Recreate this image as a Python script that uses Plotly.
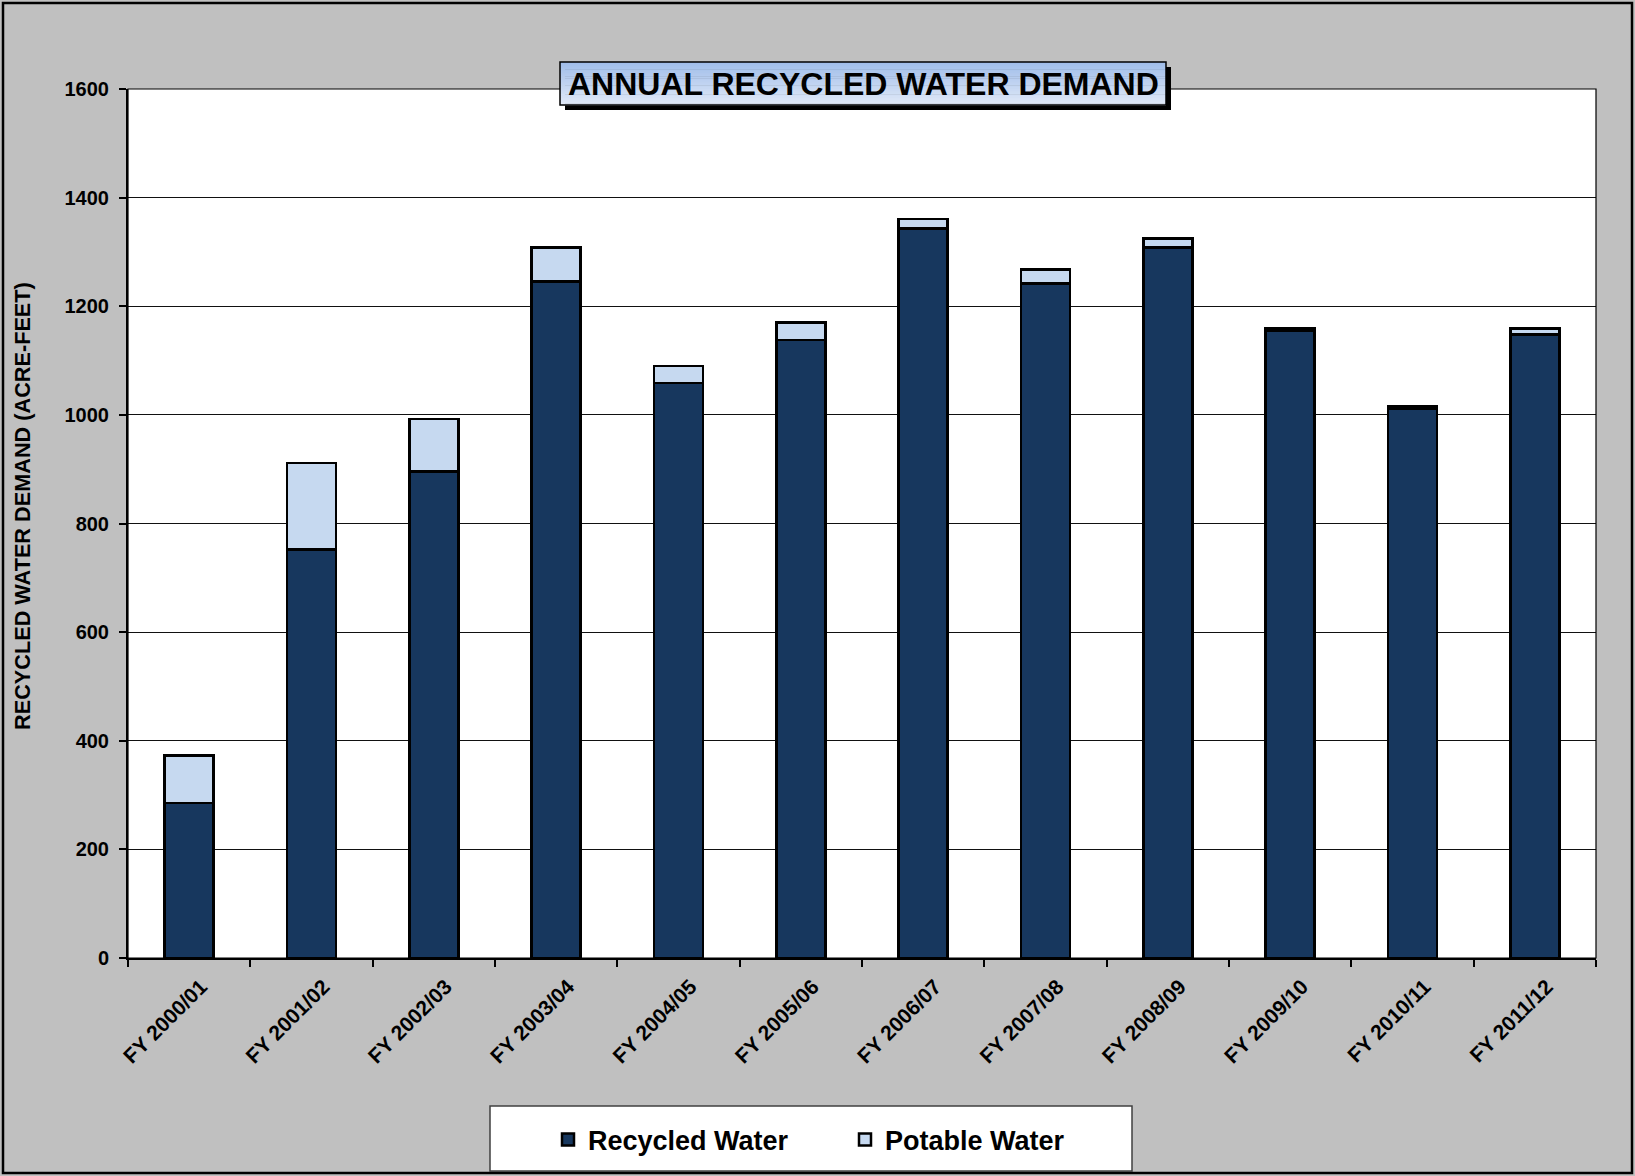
import plotly.graph_objects as go

# Annual demand by fiscal year (acre-feet)
fiscal_years = [
    "FY 2000/01", "FY 2001/02", "FY 2002/03", "FY 2003/04",
    "FY 2004/05", "FY 2005/06", "FY 2006/07", "FY 2007/08",
    "FY 2008/09", "FY 2009/10", "FY 2010/11", "FY 2011/12",
]
recycled_water = [285, 752, 896, 1246, 1059, 1138, 1343, 1242, 1308, 1155, 1011, 1148]
potable_water = [88, 159, 96, 62, 31, 32, 18, 26, 17, 4, 4, 11]
y_ticks = [0, 200, 400, 600, 800, 1000, 1200, 1400, 1600]

FONT = "Liberation Sans, Arial, sans-serif"
NAVY = "#17375e"
LIGHT = "#c6d9f0"

W, H = 1635, 1176
L, R, T, B = 128, 39, 89, 218
PW = W - L - R
PH = H - T - B


def px(x):
    """Page pixel x -> paper coordinate."""
    return (x - L) / PW


def py(y):
    """Page pixel y (from top) -> paper coordinate."""
    return (H - B - y) / PH


fig = go.Figure()
fig.add_trace(go.Bar(
    x=fiscal_years, y=recycled_water, name="Recycled Water",
    marker=dict(color=NAVY, line=dict(color="black", width=2.5)),
    legend="legend",
))
fig.add_trace(go.Bar(
    x=fiscal_years, y=potable_water, name="Potable Water",
    marker=dict(color=LIGHT, line=dict(color="black", width=2.5)),
    legend="legend2",
))

shapes = []
# outer frame
shapes.append(dict(type="rect", xref="paper", yref="paper",
                   x0=px(3), x1=px(1632), y0=py(1173), y1=py(3),
                   line=dict(color="black", width=2.5), layer="above"))
# thin border around the plotting area
shapes.append(dict(type="rect", xref="paper", yref="paper",
                   x0=0, x1=1, y0=0, y1=1,
                   line=dict(color="black", width=1.2), layer="above"))

# title box: drop shadow, gradient fill, border
bx0, bx1, by0, by1 = 560, 1166, 62, 105
shapes.append(dict(type="rect", xref="paper", yref="paper",
                   x0=px(bx0 + 5), x1=px(bx1 + 5), y0=py(by1 + 5), y1=py(by0 + 5),
                   fillcolor="black", line=dict(width=0), layer="above"))
top_rgb = (160, 189, 233)
bot_rgb = (224, 233, 248)
n = 24
for i in range(n):
    t = i / (n - 1)
    c = tuple(round(a + (b - a) * t) for a, b in zip(top_rgb, bot_rgb))
    ya = by0 + (by1 - by0) * i / n
    yb = by0 + (by1 - by0) * (i + 1) / n
    shapes.append(dict(type="rect", xref="paper", yref="paper",
                       x0=px(bx0), x1=px(bx1), y0=py(yb + 0.5), y1=py(ya),
                       fillcolor="rgb(%d,%d,%d)" % c, line=dict(width=0), layer="above"))
shapes.append(dict(type="rect", xref="paper", yref="paper",
                   x0=px(bx0), x1=px(bx1), y0=py(by1), y1=py(by0),
                   line=dict(color="black", width=1.5), layer="above"))

# legend frame
shapes.append(dict(type="rect", xref="paper", yref="paper",
                   x0=px(490), x1=px(1132), y0=py(1171), y1=py(1106),
                   fillcolor="white", line=dict(color="#404040", width=1.5), layer="below"))

annotations = [
    dict(text="ANNUAL RECYCLED WATER DEMAND", xref="paper", yref="paper",
         x=px((bx0 + bx1) / 2), y=py((by0 + by1) / 2 + 1), xanchor="center", yanchor="middle",
         showarrow=False, font=dict(family=FONT, size=32, color="black", weight="bold")),
    dict(text="RECYCLED WATER DEMAND (ACRE-FEET)", xref="paper", yref="paper",
         x=px(23), y=py(506), xanchor="center", yanchor="middle", textangle=-90,
         showarrow=False, font=dict(family=FONT, size=21.7, color="black", weight="bold")),
]

legend_font = dict(family=FONT, size=27, color="black", weight="bold")
fig.update_layout(
    width=W, height=H,
    margin=dict(l=L, r=R, t=T, b=B, pad=0),
    paper_bgcolor="#c0c0c0",
    plot_bgcolor="white",
    barmode="stack",
    bargap=0.6,
    shapes=shapes,
    annotations=annotations,
    showlegend=True,
    legend=dict(x=px(548), y=py(1140), xanchor="left", yanchor="middle",
                bgcolor="rgba(0,0,0,0)", borderwidth=0, font=legend_font),
    legend2=dict(x=px(845), y=py(1140), xanchor="left", yanchor="middle",
                 bgcolor="rgba(0,0,0,0)", borderwidth=0, font=legend_font),
    xaxis=dict(
        type="category", showline=True, linecolor="black", linewidth=2,
        ticks="outside", ticklen=7, tickwidth=1.5, tickcolor="black",
        tickson="boundaries", tickangle=-45, showgrid=False,
        ticklabelshift=12, ticklabelstandoff=6,
        tickfont=dict(family=FONT, size=21, color="black", weight="bold"),
    ),
    yaxis=dict(
        range=[0, 1600], tickvals=y_ticks, ticktext=[str(v) for v in y_ticks],
        showgrid=True, gridcolor="#111111", gridwidth=1.3, zeroline=False,
        showline=True, linecolor="black", linewidth=2,
        ticks="outside", ticklen=7, tickwidth=1.5, tickcolor="black",
        ticklabelstandoff=6,
        tickfont=dict(family=FONT, size=20, color="black", weight="bold"),
    ),
)

fig.write_html("out.html")
